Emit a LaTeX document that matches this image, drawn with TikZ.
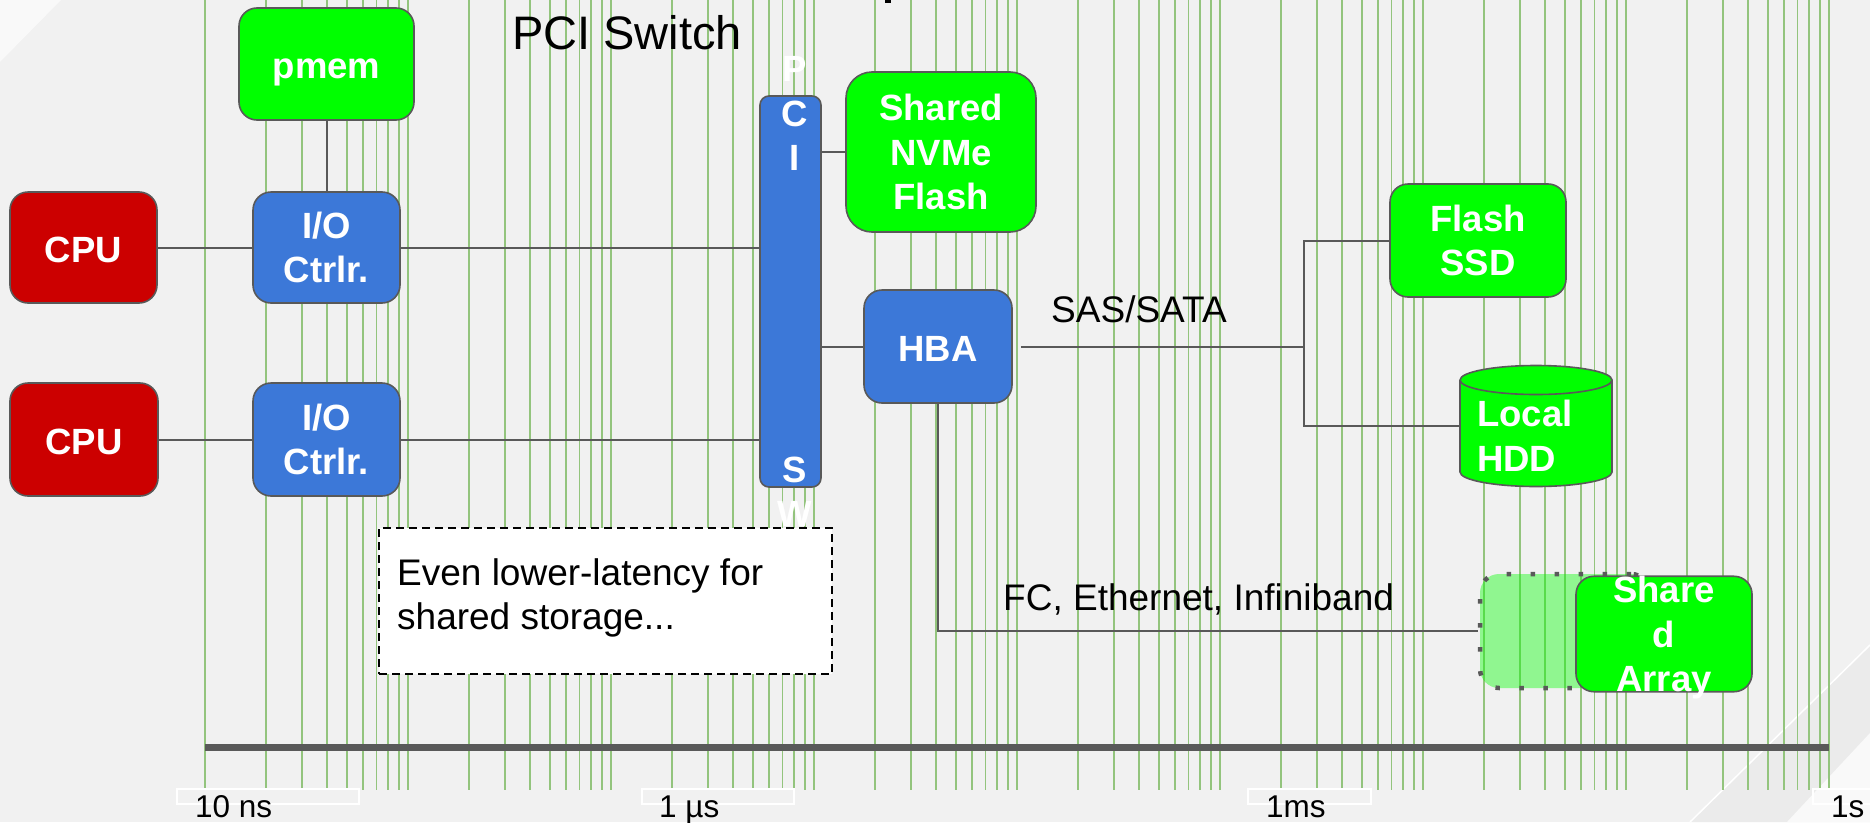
\documentclass[tikz,border=0pt]{standalone}
\usepackage{fontspec}
\setmainfont{Liberation Sans}
\usetikzlibrary{calc}

\definecolor{slidebg}{HTML}{F1F1F1}
\definecolor{gridgreen}{HTML}{93C47D}
\definecolor{edge}{HTML}{595959}
\definecolor{cpured}{HTML}{CC0000}
\definecolor{ioblue}{HTML}{3C78D8}
\definecolor{boxgreen}{HTML}{00FF00}

\newcommand\boxfont{\fontsize{36.5}{44.5}\selectfont\bfseries}
\newcommand\plainfont{\fontsize{37}{43.5}\selectfont}
\newcommand\tickfont{\fontsize{31.5}{36}\selectfont}
\newcommand\headfont{\fontsize{47}{52}\selectfont}

\tikzset{
  gridline/.style={draw=gridgreen, line width=1.8pt},
  link/.style={draw=edge, line width=2pt},
  box/.style={rectangle, draw=edge, line width=1.6pt, rounded corners=18pt,
    text=white, font=\boxfont, align=center, inner sep=0pt},
  oneline/.style={text height=36pt, text depth=7pt},
  redbox/.style={box, fill=cpured},
  bluebox/.style={box, fill=ioblue},
  greenbox/.style={box, fill=boxgreen},
  ghostbox/.style={rectangle, rounded corners=19pt, fill=boxgreen, fill opacity=0.4,
    draw=edge, line width=4.5pt, dash pattern=on 4.5pt off 19.5pt},
  notebox/.style={rectangle, draw=black, fill=white, line width=2pt,
    dash pattern=on 8pt off 5pt, inner sep=0pt},
  plain/.style={font=\plainfont, text=black, inner sep=0pt},
  tickbox/.style={rectangle, draw=white, line width=1.5pt, inner sep=0pt, minimum height=15pt},
  ticktext/.style={font=\tickfont, text=black, inner sep=0pt, anchor=base west},
  whitetext/.style={font=\boxfont, text=white, inner sep=0pt},
}

\begin{document}
\begin{tikzpicture}[x=1pt,y=-1pt]
\useasboundingbox (0,0) rectangle (1870,822);

% slide background with its corner bands
\fill[slidebg] (0,0) rectangle (1870,822);
\fill[white!60!slidebg] (0,0) -- (61,0) -- (0,62) -- cycle;
\fill[black!8] (1690,822) -- (1870,645) -- (1870,822) -- cycle;
\draw[white, line width=1.5pt] (1690,822) -- (1870,645);
\fill[white!60!slidebg] (1787,822) -- (1870,733) -- (1870,822) -- cycle;

% logarithmic time grid, 10 ns to 1 s
\foreach \d in {0,...,7}{
  \foreach \m in {1,...,9}{
    \pgfmathsetmacro\gx{205+203*(\d+ln(\m)/ln(10))}
    \draw[gridline] (\gx,0) -- (\gx,790);
  }
}
\draw[gridline] (1829,0) -- (1829,790);

% time axis
\draw[edge, line width=7pt] (205,747.5) -- (1829,747.5);

% tick labels
\node[tickbox, minimum width=182pt] (box10ns) at (268,796.5) {};
\node[tickbox, minimum width=152pt] (box1us) at (718,796.5) {};
\node[tickbox, minimum width=123pt] (box1ms) at (1309.5,796.5) {};
\node[tickbox, minimum width=123pt] (box1s) at (1874.5,796.5) {};
\node[ticktext] (t10ns) at (195,817) {10 ns};
\node[ticktext] (t1us) at (659,817) {1 µs};
\node[ticktext] (t1ms) at (1266,817) {1ms};
\node[ticktext] (t1s) at (1831,817) {1s};

% heading
\node[font=\headfont, inner sep=0pt, anchor=base west] (head) at (512,49) {PCI Switch};
\fill[black] (885,0) rectangle (891,3);

% components
\node[redbox, oneline, minimum width=147pt, minimum height=111pt] (cpu1) at (83.5,247.5) {CPU};
\node[redbox, oneline, minimum width=148pt, minimum height=113pt] (cpu2) at (84,439.5) {CPU};
\node[bluebox, minimum width=147pt, minimum height=111pt] (io1) at (326.5,247.5) {I/O\\Ctrlr.};
\node[bluebox, minimum width=147pt, minimum height=113pt] (io2) at (326.5,439.5) {I/O\\Ctrlr.};
\node[greenbox, oneline, minimum width=175pt, minimum height=112pt] (pmem) at (326.5,64) {pmem};
\node[bluebox, rounded corners=9pt, minimum width=61pt, minimum height=391pt] (pci) at (790.5,291.5) {};
\node[greenbox, rounded corners=26pt, minimum width=190pt, minimum height=160pt] (nvme) at (941,152) {Shared\\NVMe\\Flash};
\node[bluebox, oneline, minimum width=148pt, minimum height=113pt] (hba) at (938,346.5) {HBA};
\node[greenbox, minimum width=176pt, minimum height=113pt] (ssd) at (1478,240.5) {Flash\\SSD};

% local disk drawn as a cylinder
\node[rectangle, minimum width=152pt, minimum height=121pt, inner sep=0pt] (hdd) at (1536,425.5) {};
\draw[fill=boxgreen, draw=edge, line width=1.6pt] (1536,472) ellipse [x radius=76, y radius=14.5];
\fill[boxgreen] (1460,380) rectangle (1612,472);
\draw[edge, line width=1.6pt] (1460,380) -- (1460,472) (1612,380) -- (1612,472);
\draw[fill=boxgreen, draw=edge, line width=1.6pt] (1536,380) ellipse [x radius=76, y radius=14.5];
\node[whitetext, align=left, anchor=north west] (hddtext) at (1477,400) {Local\\HDD};

% remote array
\node[ghostbox, minimum width=170pt, minimum height=114pt] (ghost) at (1565,631) {};
\node[greenbox, text depth=0pt, minimum width=176pt, minimum height=112pt] (sarray) at (1664,634) {Share\\d\\Array};

% links
\draw[link] (cpu1) -- (io1);
\draw[link] (cpu2) -- (io2);
\draw[link] (pmem) -- (io1);
\draw[link] (io1.east) -- (io1.east -| pci.west);
\draw[link] (io2.east) -- (io2.east -| pci.west);
\draw[link] (nvme.west -| pci.east) -- (nvme.west);
\draw[link] (hba.west -| pci.east) -- (hba.west);
\coordinate (sasjoin) at (1304,346.5);
\draw[link] ([xshift=8pt]hba.east) -- (sasjoin);
\draw[link] (ssd.west) -| (sasjoin) |- (hdd.west);
\draw[link] (hba.south) |- (ghost.west);

% link labels
\node[plain, anchor=base west] (sas) at (1051,322) {SAS/SATA};
\node[plain, anchor=base west] (fc) at (1003,610) {FC, Ethernet, Infiniband};

% switch lettering running down the bar
\node[whitetext, align=center] (pcitext) at ([xshift=4.5pt]pci.center)
  {P\\C\\I\\{}\\{}\\{}\\{}\\{}\\{}\\S\\W};

% note
\node[notebox, minimum width=453pt, minimum height=146pt] (note) at (605.5,601) {};
\node[plain, align=left, anchor=north west] (notetext) at (397,558.5)
  {Even lower-latency for\\shared storage...};
\end{tikzpicture}
\end{document}
